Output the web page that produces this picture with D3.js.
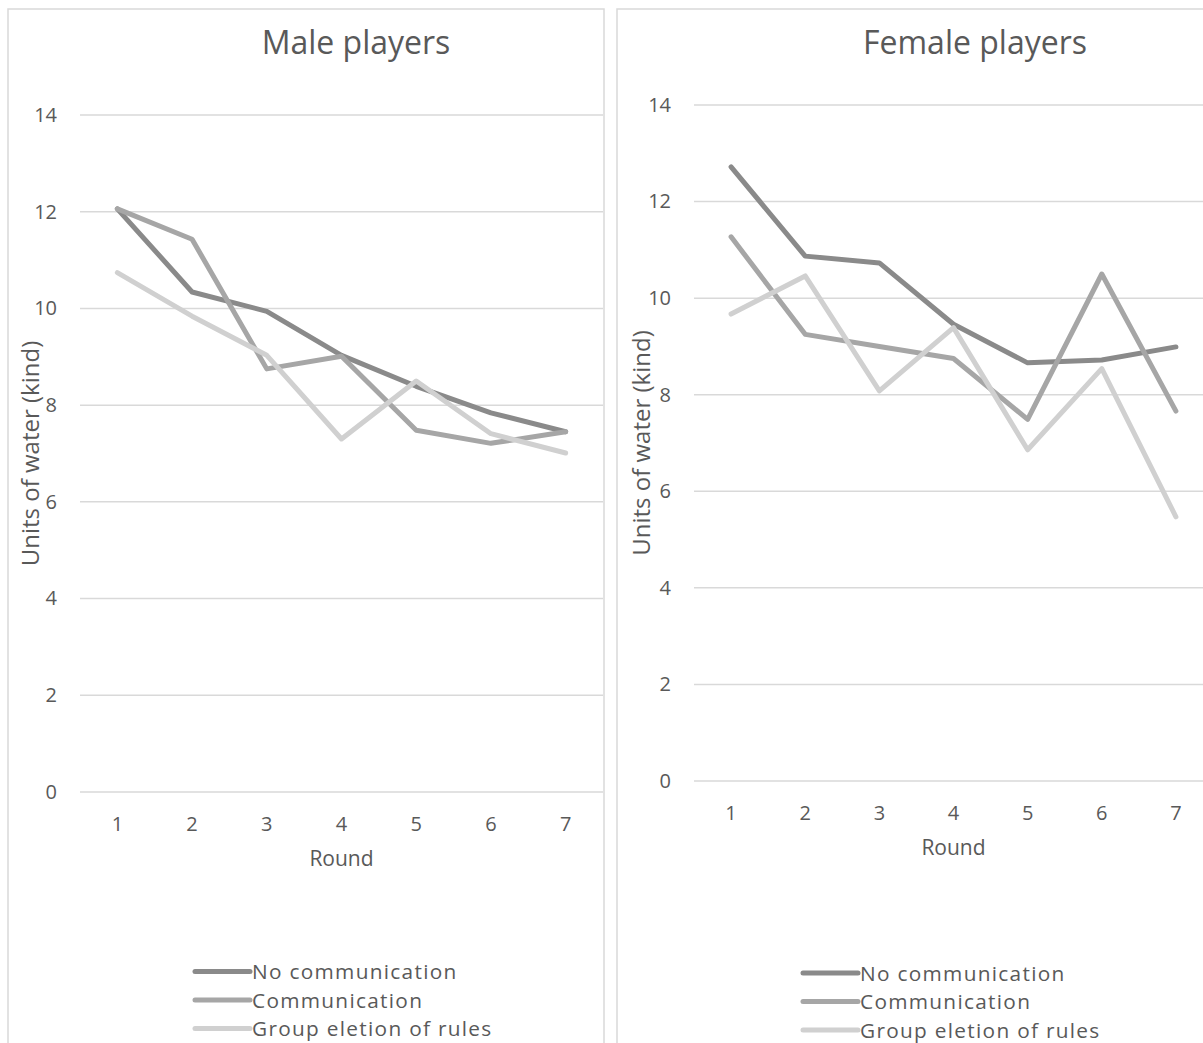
<!DOCTYPE html>
<html><head><meta charset="utf-8">
<script src="https://cdn.jsdelivr.net/npm/d3@7"></script>
<style>body{margin:0;background:#fff;} svg{display:block;} text{font-family:"Open Sans",sans-serif;fill:#595959;}</style>
</head><body>
<svg id="c" width="1203" height="1043"></svg>
<script>
const rounds = ["1","2","3","4","5","6","7"];
const seriesNames = ["No communication","Communication","Group eletion of rules"];
const yTicks = [0,2,4,6,8,10,12,14];
const maleNoComm   = [12.06,10.34,9.94,9.03,8.39,7.84,7.45];
const maleComm     = [12.06,11.43,8.75,9.01,7.48,7.21,7.45];
const maleGroup    = [10.74,9.84,9.03,7.30,8.50,7.41,7.01];
const femaleNoComm = [12.72,10.87,10.73,9.46,8.66,8.72,8.99];
const femaleComm   = [11.27,9.25,9.00,8.75,7.49,10.50,7.66];
const femaleGroup  = [9.67,10.46,8.08,9.39,6.86,8.54,5.47];
const colors = ["#8a8a8a","#a6a6a6","#d0d0d0"];

const svg = d3.select("#c");

function panel(cfg, title, data){
  const g = svg.append("g");
  g.append("rect").attr("x",cfg.box[0]).attr("y",cfg.box[1]).attr("width",cfg.box[2]).attr("height",cfg.box[3])
    .attr("fill","#fff").attr("stroke","#d9d9d9").attr("stroke-width",1.5);
  const x = d3.scaleBand().domain(rounds).range(cfg.xr);
  const y = d3.scaleLinear().domain([0,14]).range(cfg.yr);
  g.selectAll(".grid").data(yTicks).join("line")
    .attr("x1",cfg.xr[0]).attr("x2",cfg.xr[1]).attr("y1",d=>y(d)).attr("y2",d=>y(d))
    .attr("stroke","#d9d9d9").attr("stroke-width",1.5);
  const ya = g.append("g").attr("transform",`translate(${cfg.xr[0]-23},0)`)
    .call(d3.axisLeft(y).tickValues(yTicks).tickSize(0).tickPadding(0));
  ya.select(".domain").remove();
  ya.selectAll("text").attr("font-size",20).attr("fill","#595959").style("font-family","'Open Sans',sans-serif");
  const xa = g.append("g").attr("transform",`translate(0,${cfg.yr[0]})`)
    .call(d3.axisBottom(x).tickSize(0).tickPadding(25));
  xa.select(".domain").remove();
  xa.selectAll("text").attr("font-size",20).attr("fill","#595959").style("font-family","'Open Sans',sans-serif");
  g.append("text").attr("x",cfg.titleX).attr("y",54).attr("text-anchor","middle").attr("font-size",32).text(title);
  g.append("text").attr("x",(cfg.xr[0]+cfg.xr[1])/2).attr("y",cfg.yr[0]+74).attr("text-anchor","middle").attr("font-size",21).text("Round");
  g.append("text").attr("transform",`translate(${cfg.ytX},${(cfg.yr[0]+cfg.yr[1])/2}) rotate(-90)`)
    .attr("text-anchor","middle").attr("font-size",24).text("Units of water (kind)");
  const line = d3.line().x((d,i)=>x(rounds[i])+x.bandwidth()/2).y(d=>y(d));
  data.forEach((s,k)=>{
    g.append("path").datum(s).attr("d",line).attr("fill","none")
      .attr("stroke",colors[k]).attr("stroke-width",5).attr("stroke-linejoin","round").attr("stroke-linecap","round");
  });
  seriesNames.forEach((n,k)=>{
    const ly = cfg.legY + k*28.5;
    g.append("line").attr("x1",cfg.legX).attr("x2",cfg.legX+55).attr("y1",ly).attr("y2",ly)
      .attr("stroke",colors[k]).attr("stroke-width",5).attr("stroke-linecap","round");
    g.append("text").attr("x",cfg.legX+57).attr("y",ly+7.5).attr("font-size",20.8)
      .attr("letter-spacing",1.3).text(n);
  });
}

panel({box:[8,9,596,1100], xr:[80,603], yr:[792,115], titleX:356, ytX:39, legX:195, legY:971.5},
  "Male players", [maleNoComm, maleComm, maleGroup]);
panel({box:[617,9,700,1100], xr:[694,1213], yr:[781,105], titleX:975, ytX:650, legX:803, legY:973},
  "Female players", [femaleNoComm, femaleComm, femaleGroup]);
</script>
</body></html>
